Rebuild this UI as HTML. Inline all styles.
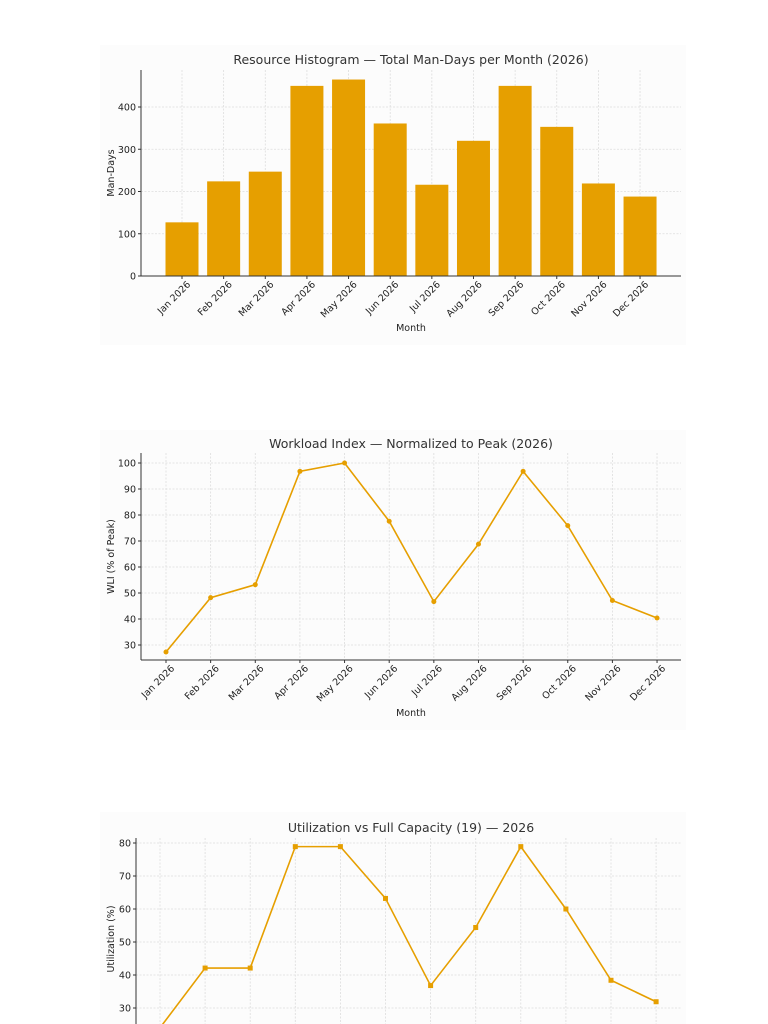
<!DOCTYPE html>
<html><head><meta charset="utf-8"><style>
body{margin:0;background:#fff}
svg{display:block;font-family:"DejaVu Sans","Liberation Sans",sans-serif}
.t{font-size:12.5px;fill:#333;text-anchor:middle}
.tk{font-size:9.5px;fill:#222}
.g{stroke:#ddd;stroke-width:0.8;stroke-dasharray:2,1.5}
.ax{stroke:#333;stroke-width:1}
</style></head><body>
<svg width="768" height="1024" viewBox="0 0 768 1024">
<rect x="100" y="45" width="586" height="300" fill="#fcfcfc"/>
<rect x="100" y="430" width="586" height="300" fill="#fcfcfc"/>
<rect x="100" y="812" width="586" height="212" fill="#fcfcfc"/>
<g id="c1"></g><g id="c2"></g><g id="c3"></g>
</svg>
<script>
const M=["Jan","Feb","Mar","Apr","May","Jun","Jul","Aug","Sep","Oct","Nov","Dec"];
const NS="http://www.w3.org/2000/svg";
function el(p,t,a,txt){const e=document.createElementNS(NS,t);for(const k in a)e.setAttribute(k,a[k]);if(txt!=null)e.textContent=txt;p.appendChild(e);return e;}
function lab(g,x,B,i){const ax=x+9,ay=B+9;el(g,"text",{x:ax,y:ay,class:"tk","text-anchor":"end",transform:`rotate(-45 ${ax} ${ay})`},M[i]+" 2026");}
(function(){const g=document.getElementById("c1");const L=141,R=681,B=276,T=70,k=0.4225;
const v=[127,224,247,450,465,361,216,320,450,353,219,188];
for(let i=0;i<12;i++){const x=182+i*41.64;el(g,"line",{x1:x,x2:x,y1:T,y2:B,class:"g"});}
for(let y=0;y<=400;y+=100){const yy=B-y*k;el(g,"line",{x1:L,x2:R,y1:yy,y2:yy,class:"g"});el(g,"text",{x:L-5,y:yy+3.5,class:"tk","text-anchor":"end"},y);el(g,"line",{x1:L-3,x2:L,y1:yy,y2:yy,class:"ax"});}
v.forEach((d,i)=>{const x=182+i*41.64;el(g,"rect",{x:x-16.5,y:B-d*k,width:33,height:d*k,fill:"#E69F00"});
el(g,"line",{x1:x,x2:x,y1:B,y2:B+3,class:"ax"});lab(g,x,B,i);});
el(g,"line",{x1:L,x2:L,y1:T,y2:B,class:"ax"});el(g,"line",{x1:L,x2:R,y1:B,y2:B,class:"ax"});
el(g,"text",{x:411,y:64,class:"t"},"Resource Histogram — Total Man-Days per Month (2026)");
el(g,"text",{x:411,y:331,class:"tk","text-anchor":"middle"},"Month");
el(g,"text",{x:114,y:173,class:"tk","text-anchor":"middle",transform:"rotate(-90 114 173)"},"Man-Days");})();
function line(id,L,R,B,T,x0,dx,yv,ys,y0,vals,title,ty,ylab,mlab,marker){const g=document.getElementById(id);
for(let i=0;i<12;i++){const x=x0+i*dx;el(g,"line",{x1:x,x2:x,y1:T,y2:B,class:"g"});}
yv.forEach(y=>{const yy=y0-(y-yv[yv.length-1])*ys;if(yy<T-2||yy>B)return;el(g,"line",{x1:L,x2:R,y1:yy,y2:yy,class:"g"});el(g,"text",{x:L-5,y:yy+3.5,class:"tk","text-anchor":"end"},y);el(g,"line",{x1:L-3,x2:L,y1:yy,y2:yy,class:"ax"});});
const pts=vals.map((v,i)=>[x0+i*dx,y0-(v-yv[yv.length-1])*ys]);
el(g,"polyline",{points:pts.map(p=>p.join(",")).join(" "),fill:"none",stroke:"#E69F00","stroke-width":1.6});
pts.forEach(p=>{if(marker=="s")el(g,"rect",{x:p[0]-2.5,y:p[1]-2.5,width:5,height:5,fill:"#E69F00"});else el(g,"circle",{cx:p[0],cy:p[1],r:2.5,fill:"#E69F00"});});
el(g,"line",{x1:L,x2:L,y1:T,y2:B,class:"ax"});
if(mlab){el(g,"line",{x1:L,x2:R,y1:B,y2:B,class:"ax"});
for(let i=0;i<12;i++){const x=x0+i*dx;el(g,"line",{x1:x,x2:x,y1:B,y2:B+3,class:"ax"});lab(g,x,B,i);}
el(g,"text",{x:411,y:mlab,class:"tk","text-anchor":"middle"},"Month");}
el(g,"text",{x:411,y:ty,class:"t"},title);
const yc=(T+B)/2;el(g,"text",{x:114,y:yc,class:"tk","text-anchor":"middle",transform:`rotate(-90 114 ${yc})`},ylab);}
line("c2",141,681,660,453,166,44.64,[100,90,80,70,60,50,40,30],2.6,645,[27.3,48.2,53.2,96.8,100,77.6,46.7,68.8,96.8,75.9,47.1,40.4],"Workload Index — Normalized to Peak (2026)",448,"WLI (% of Peak)",716,"c");
line("c3",136,681,1040,838,160,45.1,[80,70,60,50,40,30,20],3.3,1041,[24,42.1,42.1,78.9,78.9,63.2,36.8,54.4,78.9,60,38.4,31.9],"Utilization vs Full Capacity (19) — 2026",832,"Utilization (%)",0,"s");
</script>
</body></html>
